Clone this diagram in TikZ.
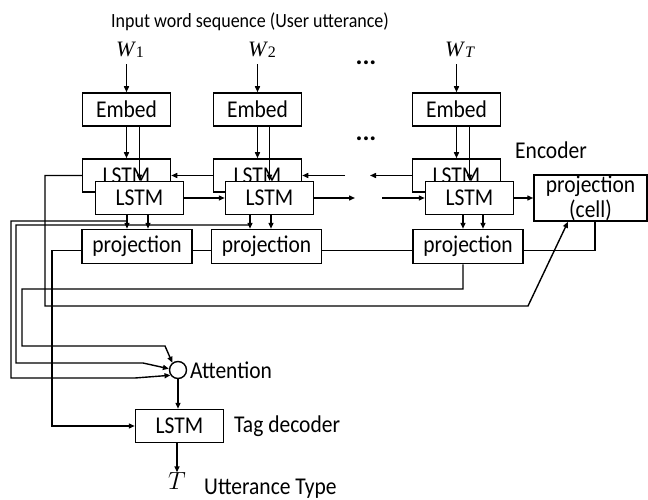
\documentclass[tikz,border=0pt]{standalone}
\usepackage{fontspec}
\setmainfont{Carlito}
\newfontfamily\tms{Liberation Serif}
\usetikzlibrary{arrows.meta}
\newcommand\vtx[1]{\scalebox{1}[1.12]{#1}}
\begin{document}
\begin{tikzpicture}[x=1pt,y=-1pt,
 box/.style={draw, line width=1.5pt, fill=white, minimum width=88pt, minimum height=33pt, inner sep=0pt, font=\fontsize{21.5}{21.5}\selectfont},
 lbl/.style={font=\fontsize{21.5}{21.5}\selectfont, inner sep=0pt},
 wlbl/.style={inner sep=0pt, font=\tms\fontsize{22}{22}\selectfont},
 dotsl/.style={inner sep=0pt, anchor=base, font=\fontsize{26}{26}\selectfont\bfseries},
 conn/.style={line width=1.4pt},
 arr/.style={conn, -{Triangle[length=6pt,width=5pt]}},
]
\useasboundingbox (0,0) rectangle (648,500);

% texts on top
\node[lbl, font=\fontsize{18}{18}\selectfont] (title) at (250,22) {\vtx{Input word sequence (User utterance)}};
\node[wlbl] (w1) at (130,50) {\textit{W}\raisebox{-0.15ex}{\fontsize{16}{16}\selectfont 1}};
\node[wlbl] (w2) at (262,50) {\textit{W}\raisebox{-0.15ex}{\fontsize{16}{16}\selectfont 2}};
\node[wlbl] (wT) at (460,50) {\textit{W}\raisebox{-0.15ex}{\fontsize{16}{16}\selectfont\textit{T}}};
\node[dotsl] (dots1) at (366,65) {...};
\node[dotsl] (dots2) at (366,141) {...};
\node[lbl] (enc) at (551,150) {\vtx{Encoder}};

% embed boxes
\node[box] (emb1) at (126.5,109.5) {\vtx{Embed}};
\node[box] (emb2) at (257.5,109.5) {\vtx{Embed}};
\node[box] (emb3) at (456.5,109.5) {\vtx{Embed}};

% backward LSTMs (behind)
\node[box] (bk1) at (126.5,175.5) {\vtx{LSTM}};
\node[box] (bk2) at (257.5,175.5) {\vtx{LSTM}};
\node[box] (bk3) at (456.5,175.5) {\vtx{LSTM}};

% forward LSTMs (front)
\node[box] (fr1) at (139.5,198) {\vtx{LSTM}};
\node[box] (fr2) at (269.5,198) {\vtx{LSTM}};
\node[box] (fr3) at (469.5,198) {\vtx{LSTM}};

% projections
\node[box, minimum width=110pt, minimum height=34pt] (pr1) at (137,246.5) {\vtx{projection}};
\node[box, minimum width=110pt, minimum height=34pt] (pr2) at (266.5,246.5) {\vtx{projection}};
\node[box, minimum width=110pt, minimum height=34pt] (pr3) at (468,246.5) {\vtx{projection}};
\node[box, minimum width=113pt, minimum height=46pt, align=center, font=\fontsize{21.5}{25}\selectfont] (cell) at (590.5,198) {\vtx{projection}\\\vtx{(cell)}};

% attention and decoder
\node[draw, circle, line width=1.4pt, minimum size=17pt, inner sep=0pt] (att) at (178,370) {};
\node[lbl, anchor=west] (attl) at (190,370) {\vtx{Attention}};
\node[box] (dec) at (179.5,426) {\vtx{LSTM}};
\node[lbl, anchor=west] (decl) at (234,426) {\vtx{Tag decoder}};
\node[inner sep=0pt, font=\fontsize{25}{25}\selectfont] (T) at (177,481) {$T$};
\node[lbl, anchor=west] (Tl) at (204,489) {\vtx{Utterance Type}};

% named helper coordinates
\coordinate (a1) at (127,0);
\coordinate (a2) at (148,0);
\coordinate (a3) at (250,0);
\coordinate (a4) at (271,0);
\coordinate (a5) at (463,0);
\coordinate (a6) at (483,0);
\coordinate (cin) at (568,0);
\coordinate (cout) at (595,0);
\coordinate (j1) at (127,221);
\coordinate (j2) at (250,225);
\coordinate (bgap1) at (345,175.5);
\coordinate (bgap2) at (370,175.5);
\coordinate (fgap1) at (355,198);
\coordinate (fgap2) at (382,198);

% W -> Embed
\draw[arr, shorten <=6pt] (w1.south -| emb1.north) -- (emb1.north);
\draw[arr, shorten <=6pt] (w2.south -| emb2.north) -- (emb2.north);
\draw[arr, shorten <=6pt] (wT.south -| emb3.north) -- (emb3.north);

% Embed -> LSTMs
\draw[arr] (emb1.south) -- (bk1.north);
\draw[arr] (emb2.south) -- (bk2.north);
\draw[arr] (emb3.south) -- (bk3.north);
\draw[arr] (emb1.south -| fr1.north) -- (fr1.north);
\draw[arr] (emb2.south -| fr2.north) -- (fr2.north);
\draw[arr] (emb3.south -| fr3.north) -- (fr3.north);

% backward chain
\draw[arr] (bk2.west) -- (bk1.east);
\draw[arr] (bgap1) -- (bk2.east);
\draw[arr] (bk3.west) -- (bgap2);

% forward chain
\draw[arr] (fr1.east) -- (fr2.west);
\draw[arr] (fr2.east) -- (fgap1);
\draw[arr] (fgap2) -- (fr3.west);
\draw[arr] (fr3.east) -- (cell.west);

% LSTM -> projection
\draw[arr] (fr1.south -| a1) -- (pr1.north -| a1);
\draw[arr] (fr1.south -| a2) -- (pr1.north -| a2);
\draw[arr] (fr2.south -| a3) -- (pr2.north -| a3);
\draw[arr] (fr2.south -| a4) -- (pr2.north -| a4);
\draw[arr] (fr3.south -| a5) -- (pr3.north -| a5);
\draw[arr] (fr3.south -| a6) -- (pr3.north -| a6);

% projection chain
\draw[conn] ([yshift=-4pt]pr1.east) -- ([yshift=-4pt]pr2.west);
\draw[conn] ([yshift=-4pt]pr2.east) -- ([yshift=-4pt]pr3.west);
\draw[conn] ([yshift=-4pt]pr3.east) -- (595,250.5) -- (cell.south -| cout);

% left wiring to attention
\draw[arr] (j1) -- (11,221) -- (11,378) -- (135,378) -- (att.215);
\draw[arr] (j2) -- (16,225) -- (16,363) -- (143,363) -- (att.172);
\draw[arr] (pr3.south -| a5) -- (463,289) -- (22,289) -- (22,346) -- (165,346) -- (att.128);

% backward final state to cell projection
\draw[arr] (bk1.west) -- (45,175.5) -- (45,306) -- (528,306) -- (cell.south -| cin);

% projection 1 to decoder
\draw[arr] ([yshift=-4pt]pr1.west) -- (52,250.5) -- (52,426) -- (dec.west);

% attention -> decoder -> T
\draw[arr] (att.south) -- (att.south |- dec.north);
\draw[arr] (T.north |- dec.south) -- (T.north);
\end{tikzpicture}
\end{document}
